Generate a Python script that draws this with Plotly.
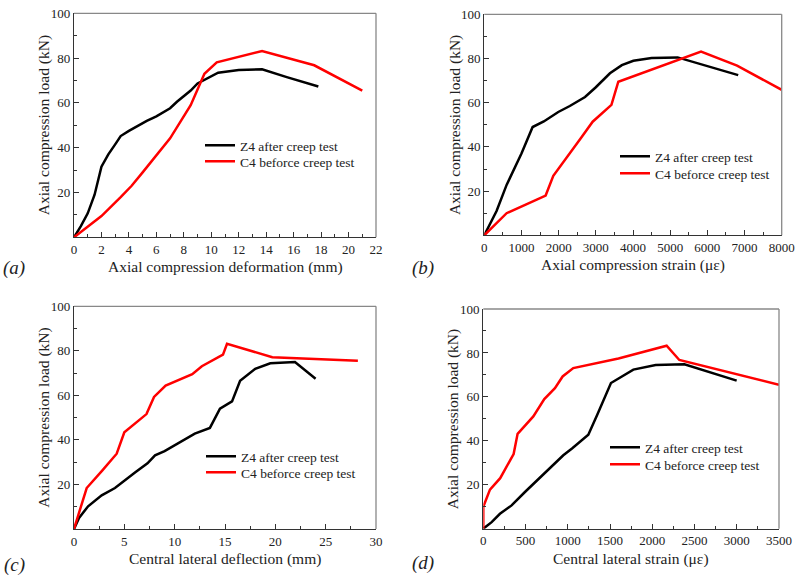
import plotly.graph_objects as go

# Panel (a): axial compression deformation (mm) vs load (kN)
a_z4_x = [0, 0.5, 1.0, 1.5, 2.0, 2.5, 3.0, 3.4, 4.0, 5.0, 5.3, 6.0, 7.0, 7.5, 8.0, 8.5, 9.0, 10.0, 10.5, 12.0, 13.7, 15.5, 17.8]
a_z4_y = [0, 5, 10.7, 19, 31.5, 37, 41.5, 45.2, 47.5, 51, 52, 54, 57.6, 60.5, 62.8, 65.5, 68.7, 72, 73.5, 74.7, 75, 71.5, 67.3]
a_c4_x = [0, 2.0, 3.4, 4.2, 5.0, 6.0, 7.0, 8.5, 9.5, 10.4, 13.7, 17.5, 21.0]
a_c4_y = [0, 9.5, 17.9, 23, 29, 36.5, 44.2, 59, 73, 78.1, 83.2, 76.8, 65.5]

# Panel (b): axial compression strain (microstrain) vs load (kN)
b_z4_x = [0, 330, 600, 1000, 1300, 1600, 1990, 2300, 2710, 3000, 3380, 3700, 4010, 4500, 5200, 6830]
b_z4_y = [0, 11, 22.8, 37, 49, 51.5, 55.8, 58.5, 62.6, 67, 73.3, 77, 79, 80.2, 80.5, 72.5]
b_c4_x = [0, 600, 1650, 1856, 2600, 2915, 3420, 3605, 5830, 6800, 8000]
b_c4_y = [0, 10, 18, 26.9, 44, 51.4, 59, 69.5, 83.1, 76.8, 65.8]

# Panel (c): central lateral deflection (mm) vs load (kN)
c_z4_x = [0, 0.5, 1.4, 2.75, 4.07, 5.0, 6.06, 7.3, 8.05, 9.0, 10.0, 12.0, 13.5, 14.5, 15.7, 16.5, 18.0, 19.5, 21.95, 24.0]
c_z4_y = [0, 5, 10.2, 15.1, 18.4, 21.8, 25.4, 29.5, 33.1, 35, 37.5, 42.8, 45.4, 54, 57.3, 66.6, 71.9, 74.4, 75, 67.5]
c_c4_x = [0, 1.26, 2.8, 4.24, 5.0, 7.2, 7.95, 9.1, 11.75, 12.7, 14.8, 15.2, 19.7, 28.2]
c_c4_y = [0, 18.4, 26.2, 33.8, 43.4, 51.6, 59.3, 64.4, 69.5, 73.1, 78.3, 83.2, 77.1, 75.6]

# Panel (d): central lateral strain (microstrain) vs load (kN)
d_z4_x = [0, 99, 197, 335, 493, 750, 947, 1050, 1243, 1350, 1511, 1776, 2040, 2380, 2999]
d_z4_y = [0, 3, 6.8, 10.6, 16.7, 26, 33.4, 36.5, 42.8, 52, 66.3, 72.4, 74.5, 74.8, 67.4]
d_c4_x = [0, 0, 79, 200, 359, 406, 592, 722, 848, 939, 1065, 1600, 2170, 2320, 3500]
d_c4_y = [0, 10, 17.8, 23, 34, 43.2, 51.1, 59, 64, 69.3, 73.1, 77.5, 83.3, 76.8, 65.5]

series_names = ["Z4 after creep test", "C4 beforce creep test"]
panel_labels = ["(a)", "(b)", "(c)", "(d)"]
x_titles = ["Axial compression deformation (mm)", "Axial compression strain (\u03bc\u03b5)",
            "Central lateral deflection (mm)", "Central lateral strain (\u03bc\u03b5)"]
y_title = "Axial compression load (kN)"
y_tickvals = [20, 40, 60, 80, 100]

W, H = 798, 576
# plot boxes in pixels: left, right, top, bottom
boxes = [(74, 376, 13.3, 237.3), (484.3, 781.7, 14.3, 235.3),
         (74, 376, 306.3, 529), (483.3, 779, 309, 528.7)]
x_ranges = [(0, 22), (0, 8000), (0, 30), (0, 3500)]
x_dticks = [2, 1000, 5, 500]
# legend line start x, row1 y, row2 y
legend_pos = [(206, 145, 161), (621, 156, 173), (207, 456, 472), (611, 447, 464)]
label_pos = [(14, 268), (423, 268), (14, 565), (423, 563)]

data = [(a_z4_x, a_z4_y, a_c4_x, a_c4_y), (b_z4_x, b_z4_y, b_c4_x, b_c4_y),
        (c_z4_x, c_z4_y, c_c4_x, c_c4_y), (d_z4_x, d_z4_y, d_c4_x, d_c4_y)]

FONT = "Liberation Serif"
fig = go.Figure()
layout = dict(width=W, height=H, margin=dict(l=0, r=0, t=0, b=0, autoexpand=False),
              paper_bgcolor="white", plot_bgcolor="white", showlegend=True,
              font=dict(family=FONT, color="#222"), annotations=[], shapes=[])

for i in range(4):
    sfx = "" if i == 0 else str(i + 1)
    xa, ya = "x" + sfx, "y" + sfx
    lg1 = "legend" + ("" if i == 0 else str(2 * i + 1))
    lg2 = "legend" + str(2 * i + 2)
    zx, zy, cx, cy = data[i]
    fig.add_trace(go.Scatter(x=zx, y=zy, mode="lines", name=series_names[0], showlegend=True,
                             line=dict(color="black", width=2.5), xaxis=xa, yaxis=ya, legend=lg1))
    fig.add_trace(go.Scatter(x=cx, y=cy, mode="lines", name=series_names[1], showlegend=True,
                             line=dict(color="#ff0000", width=2.5), xaxis=xa, yaxis=ya, legend=lg2))
    l, r, t, b = boxes[i]
    dx = [l / W, r / W]
    dy = [1 - b / H, 1 - t / H]
    layout["xaxis" + sfx] = dict(domain=dx, range=list(x_ranges[i]), anchor=ya,
                                 dtick=x_dticks[i], tick0=0, ticks="inside", ticklen=5,
                                 tickcolor="#333", showline=True, linecolor="#333", linewidth=1.2,
                                 showgrid=False, zeroline=False,
                                 tickfont=dict(size=13, family=FONT, color="#222"),
                                 minor=dict(dtick=x_dticks[i] / 2, tick0=0, ticks="inside",
                                            ticklen=3, tickcolor="#333"))
    layout["yaxis" + sfx] = dict(domain=dy, range=[0, 100], anchor=xa,
                                 tickvals=y_tickvals, ticks="inside", ticklen=5,
                                 tickcolor="#333", showline=True, linecolor="#333", linewidth=1.2,
                                 showgrid=False, zeroline=False,
                                 tickfont=dict(size=13, family=FONT, color="#222"),
                                 minor=dict(dtick=10, tick0=0, ticks="inside",
                                            ticklen=3, tickcolor="#333"))
    # gray top/right frame
    layout["shapes"].append(dict(type="line", xref="paper", yref="paper",
                                 x0=l / W, x1=r / W, y0=1 - t / H, y1=1 - t / H,
                                 line=dict(color="#888", width=1.3)))
    layout["shapes"].append(dict(type="line", xref="paper", yref="paper",
                                 x0=r / W, x1=r / W, y0=1 - t / H, y1=1 - b / H,
                                 line=dict(color="#888", width=1.3)))
    # x title
    layout["annotations"].append(dict(text=x_titles[i], xref="paper", yref="paper",
                                      x=(l + r) / 2 / W, y=1 - (b + 30) / H,
                                      showarrow=False, xanchor="center", yanchor="middle",
                                      font=dict(size=15.5, family=FONT, color="#222")))
    # y title
    layout["annotations"].append(dict(text=y_title, xref="paper", yref="paper",
                                      x=(l - 30) / W, y=1 - (t + b) / 2 / H, textangle=-90,
                                      showarrow=False, xanchor="center", yanchor="middle",
                                      font=dict(size=15.5, family=FONT, color="#222")))
    # panel label
    lx, ly = label_pos[i]
    layout["annotations"].append(dict(text="<i>" + panel_labels[i] + "</i>", xref="paper", yref="paper",
                                      x=lx / W, y=1 - ly / H, showarrow=False,
                                      xanchor="center", yanchor="middle",
                                      font=dict(size=19, family=FONT, color="#222")))
    gx, gy1, gy2 = legend_pos[i]
    for lg, gy in ((lg1, gy1), (lg2, gy2)):
        layout[lg] = dict(x=(gx - 6) / W, y=1 - (gy - 15) / H, xanchor="left", yanchor="top",
                          bgcolor="rgba(0,0,0,0)", borderwidth=0, visible=True,
                          font=dict(size=13.5, family=FONT, color="#222"))

fig.update_layout(**layout)
fig.write_html("out.html", config={"displayModeBar": False},
               post_script="document.body.style.margin='0';document.body.style.padding='0';")
